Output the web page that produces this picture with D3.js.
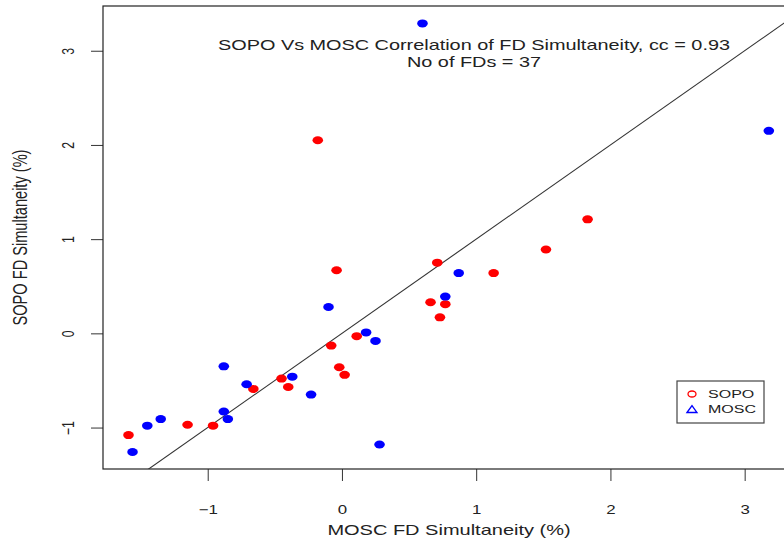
<!DOCTYPE html>
<html>
<head>
<meta charset="utf-8">
<script src="https://cdn.jsdelivr.net/npm/d3@7"></script>
<style>
  body { margin: 0; background: #fff; }
  svg { display: block; }
  text { font-family: "Liberation Sans", Arial, sans-serif; fill: #222; }
</style>
</head>
<body>
<div id="chart"></div>
<script>
// tick values
var xTicks = [-1, 0, 1, 2, 3];
var yTicks = [-1, 0, 1, 2, 3];

// SOPO points (red)
var sopoX = [-0.18, -0.04, 0.71, 1.13, 1.52, 1.83, 0.66, 0.77, 0.73, 0.11, -0.08, -0.02, 0.02, -0.66, -0.45, -0.40, -0.96, -1.15, -1.59];
var sopoY = [2.05, 0.67, 0.75, 0.64, 0.89, 1.21, 0.33, 0.31, 0.17, -0.03, -0.13, -0.36, -0.44, -0.59, -0.48, -0.57, -0.98, -0.97, -1.08];

// MOSC points (blue)
var moscX = [0.60, 3.18, 0.87, 0.77, -0.10, 0.18, 0.25, -0.88, -0.71, -0.37, -0.23, -0.88, -0.85, -1.35, -1.45, -1.56, 0.28];
var moscY = [3.29, 2.15, 0.64, 0.39, 0.28, 0.01, -0.08, -0.35, -0.54, -0.46, -0.65, -0.83, -0.91, -0.91, -0.98, -1.26, -1.18];

var titleLines = ["SOPO Vs MOSC Correlation of FD Simultaneity, cc = 0.93", "No of FDs = 37"];
var legendLabels = ["SOPO", "MOSC"];

function init() {
    var w = 784;
    var h = 546;
    var stretch = 1.37;   // the picture is wider than it is tall

    var svg = d3.select("#chart")
                .append("svg")
                .attr("width", w)
                .attr("height", h);

    var x = d3.scaleLinear().domain([-1.78, 3.375]).range([103, 795]);
    var y = d3.scaleLinear().domain([-1.44, 3.475]).range([469, 6]);

    function label(str, px, py, size, rot) {
        return svg.append("text")
                  .attr("transform", "translate(" + px + "," + py + ") scale(" + stretch + ",1)" + (rot ? " rotate(-90)" : ""))
                  .attr("text-anchor", "middle")
                  .style("font-size", size + "px")
                  .text(str);
    }

    // axes
    var xAxis = svg.append("g")
                   .attr("transform", "translate(0,469)")
                   .call(d3.axisBottom(x).tickValues(xTicks).tickFormat(d3.format("d")).tickSize(12).tickSizeOuter(0));
    xAxis.select(".domain").remove();
    xAxis.selectAll("line").attr("stroke", "#333");
    xAxis.selectAll("text")
         .attr("y", null).attr("dy", null)
         .attr("transform", "translate(0,44.5) scale(" + stretch + ",1)")
         .style("font-size", "12.3px")
         .attr("fill", "#222");

    var yAxis = svg.append("g")
                   .attr("transform", "translate(103,0)")
                   .call(d3.axisLeft(y).tickValues(yTicks).tickFormat(d3.format("d")).tickSize(12).tickSizeOuter(0));
    yAxis.select(".domain").remove();
    yAxis.selectAll("line").attr("stroke", "#333");
    yAxis.selectAll("text")
         .attr("x", null).attr("dy", "0.36em")
         .attr("text-anchor", "middle")
         .attr("transform", "translate(-35.5,0) scale(" + stretch + ",1) rotate(-90)")
         .style("font-size", "12.3px")
         .attr("fill", "#222");

    // plot box
    svg.append("rect")
       .attr("x", 103).attr("y", 6)
       .attr("width", 795 - 103).attr("height", 469 - 6)
       .attr("fill", "none")
       .attr("stroke", "#222")
       .attr("stroke-width", 1.2);

    svg.append("clipPath").attr("id", "plotclip")
       .append("rect").attr("x", 103).attr("y", 6).attr("width", 692).attr("height", 463);

    // y = x reference line
    svg.append("line")
       .attr("clip-path", "url(#plotclip)")
       .attr("x1", x(-1.78)).attr("y1", y(-1.78))
       .attr("x2", x(3.375)).attr("y2", y(3.375))
       .attr("stroke", "#333")
       .attr("stroke-width", 1.1);

    // points
    svg.selectAll("ellipse.sopo")
       .data(d3.zip(sopoX, sopoY))
       .enter()
       .append("ellipse")
       .attr("class", "sopo")
       .attr("cx", function(d) { return x(d[0]); })
       .attr("cy", function(d) { return y(d[1]); })
       .attr("rx", 5.3).attr("ry", 4)
       .style("fill", "#ff0000");

    svg.selectAll("ellipse.mosc")
       .data(d3.zip(moscX, moscY))
       .enter()
       .append("ellipse")
       .attr("class", "mosc")
       .attr("cx", function(d) { return x(d[0]); })
       .attr("cy", function(d) { return y(d[1]); })
       .attr("rx", 5.3).attr("ry", 4)
       .style("fill", "#0000ff");

    // title
    label(titleLines[0], 474, 49.7, 14.5);
    label(titleLines[1], 474, 67.3, 14.5);

    // axis titles
    label("MOSC FD Simultaneity (%)", 449, 535, 14.6);
    label("SOPO FD Simultaneity (%)", 26.7, 237.5, 14.6, true);

    // legend
    var lg = svg.append("g");
    lg.append("rect")
      .attr("x", 677).attr("y", 381)
      .attr("width", 87).attr("height", 42)
      .attr("fill", "#fff")
      .attr("stroke", "#444")
      .attr("stroke-width", 1.2);
    lg.append("ellipse")
      .attr("cx", 692).attr("cy", 394)
      .attr("rx", 4).attr("ry", 3)
      .attr("fill", "none").attr("stroke", "#ff0000").attr("stroke-width", 1.3);
    lg.append("path")
      .attr("d", "M687,412.5 L692,405.5 L697,412.5 Z")
      .attr("fill", "none").attr("stroke", "#0000ff").attr("stroke-width", 1.3);
    legendLabels.forEach(function(s, i) {
        label(s, 0, 398 + i * 15, 11.7)
            .attr("text-anchor", "start")
            .attr("transform", "translate(708," + (398 + i * 15) + ") scale(" + stretch + ",1)");
    });
}
window.onload = init;
</script>
</body>
</html>
